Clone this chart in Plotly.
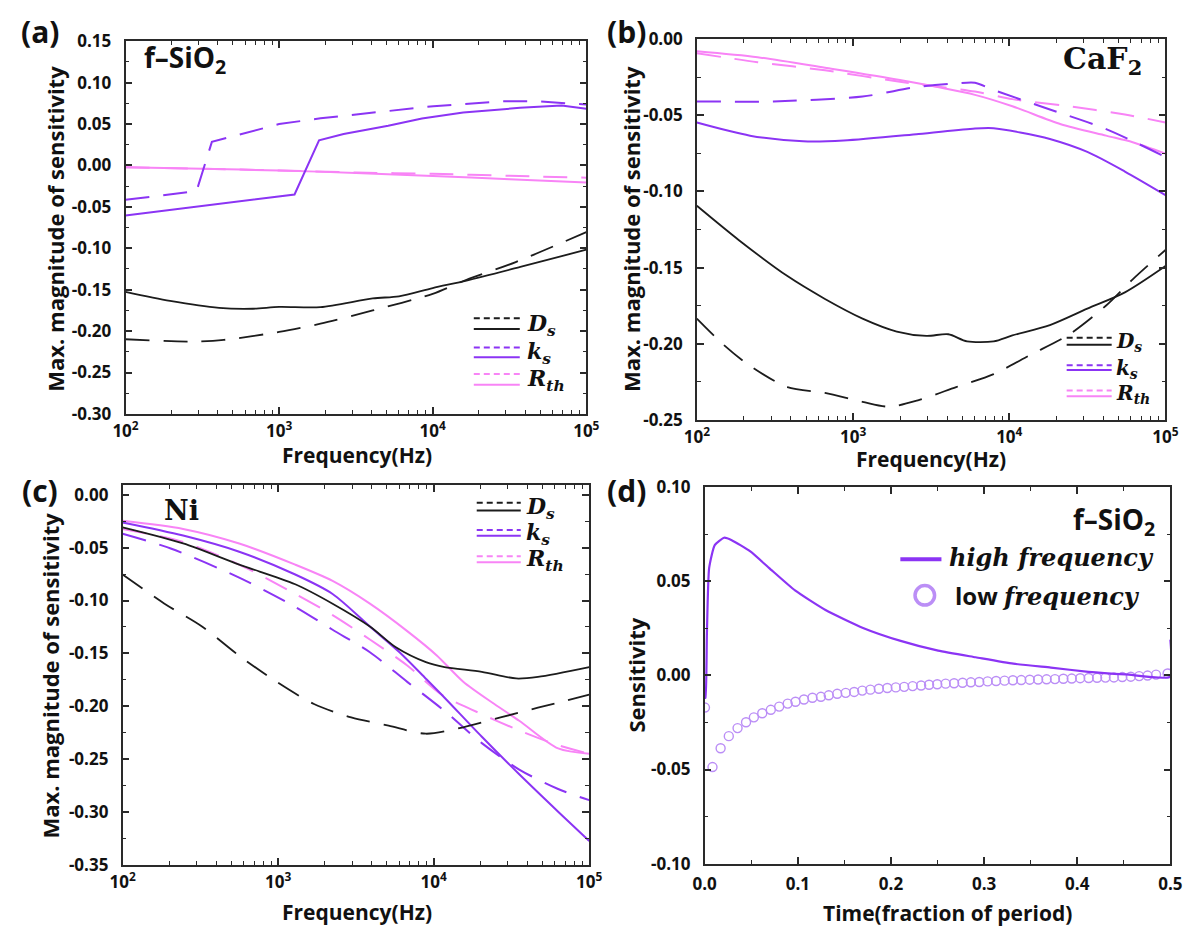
import plotly.graph_objects as go

# ---------------- DATA ----------------
# Panel (a) f-SiO2
a_ds_sol_f = [100, 195, 407, 676, 1000, 1860, 4070, 6030, 10000, 16600, 37200, 100000]
a_ds_sol_v = [-0.1527, -0.1636, -0.172, -0.173, -0.1707, -0.171, -0.1605, -0.158, -0.148, -0.139, -0.1225, -0.1017]
a_ds_dash_f = [100, 275, 437, 1000, 1860, 4070, 10000, 16600, 34700, 100000]
a_ds_dash_v = [-0.2098, -0.2126, -0.2106, -0.201, -0.191, -0.175, -0.155, -0.138, -0.1166, -0.0805]
a_ks_sol_f = [100, 195, 1000, 1260, 1820, 2630, 5130, 8510, 15800, 37000, 69000, 100000]
a_ks_sol_v = [-0.0605, -0.054, -0.038, -0.035, 0.0304, 0.038, 0.048, 0.0567, 0.064, 0.0696, 0.0724, 0.0685]
a_ks_dash_f = [100, 290, 365, 1000, 1860, 10100, 27900, 49000, 100000]
a_ks_dash_v = [-0.0415, -0.031, 0.0285, 0.050, 0.057, 0.0716, 0.0775, 0.0775, 0.0735]
a_rth_sol_f = [100, 316, 1000, 3162, 10000, 31623, 100000]
a_rth_sol_v = [-0.002, -0.004, -0.006, -0.009, -0.0127, -0.0165, -0.0205]
a_rth_dash_f = [100, 1000, 3162, 10000, 31623, 100000]
a_rth_dash_v = [-0.002, -0.006, -0.0085, -0.010, -0.0125, -0.0147]

# Panel (b) CaF2
b_ds_sol_f = [100, 186, 380, 661, 1150, 1905, 2950, 4070, 5370, 7940, 10470, 18200, 31600, 55000, 100000]
b_ds_sol_v = [-0.1094, -0.132, -0.1556, -0.1706, -0.1835, -0.192, -0.1949, -0.1938, -0.1985, -0.1985, -0.1946, -0.1878, -0.177, -0.1663, -0.149]
b_ds_dash_f = [100, 148, 219, 380, 661, 1150, 1700, 2630, 4570, 7940, 13800, 24000, 41700, 61700, 100000]
b_ds_dash_v = [-0.1835, -0.2006, -0.2146, -0.2285, -0.2324, -0.2382, -0.2414, -0.2371, -0.2285, -0.22, -0.2071, -0.1942, -0.1749, -0.1577, -0.1384]
b_ks_sol_f = [100, 219, 479, 871, 2630, 6030, 7940, 11750, 18200, 31600, 55000, 100000]
b_ks_sol_v = [-0.0547, -0.0633, -0.067, -0.0665, -0.0622, -0.0586, -0.0584, -0.0612, -0.0655, -0.074, -0.0869, -0.1024]
b_ks_dash_f = [100, 309, 1150, 2510, 4570, 6030, 7940, 18200, 41700, 100000]
b_ks_dash_v = [-0.0408, -0.0408, -0.0376, -0.0315, -0.029, -0.0285, -0.0333, -0.0461, -0.059, -0.0773]
b_rth_sol_f = [100, 245, 661, 1995, 6026, 10470, 21380, 41690, 61660, 100000]
b_rth_sol_v = [-0.0079, -0.0118, -0.0187, -0.0268, -0.0365, -0.044, -0.0558, -0.0633, -0.0676, -0.0751]
b_rth_dash_f = [100, 245, 661, 1995, 6026, 10470, 24000, 55000, 100000]
b_rth_dash_v = [-0.0092, -0.015, -0.0204, -0.0279, -0.0343, -0.0393, -0.044, -0.0494, -0.0547]

# Panel (c) Ni
c_ds_sol_f = [100, 245, 562, 1288, 2239, 3890, 5750, 8910, 11750, 20400, 33900, 46800, 100000]
c_ds_sol_v = [-0.0308, -0.046, -0.066, -0.0846, -0.103, -0.1246, -0.1446, -0.1584, -0.163, -0.1676, -0.1738, -0.1723, -0.163]
c_ds_dash_f = [100, 186, 324, 562, 977, 1700, 2950, 5130, 8910, 15500, 26900, 46800, 100000]
c_ds_dash_v = [-0.0754, -0.103, -0.1246, -0.1523, -0.1769, -0.198, -0.2107, -0.2184, -0.2261, -0.22, -0.2107, -0.2015, -0.1892]
c_ks_sol_f = [100, 245, 562, 1288, 2239, 3890, 6030, 8910, 11750, 20400, 35480, 63100, 100000]
c_ks_sol_v = [-0.0261, -0.0385, -0.0538, -0.0754, -0.0938, -0.1246, -0.149, -0.174, -0.192, -0.229, -0.2645, -0.2999, -0.3276]
c_ks_dash_f = [100, 204, 562, 1288, 2239, 3890, 6760, 11750, 20400, 35480, 63100, 100000]
c_ks_dash_v = [-0.0369, -0.0508, -0.0784, -0.106, -0.1277, -0.149, -0.177, -0.2046, -0.235, -0.26, -0.2784, -0.289]
c_rth_sol_f = [100, 245, 562, 1288, 2239, 3890, 6760, 10470, 15490, 24550, 35480, 63100, 100000]
c_rth_sol_v = [-0.0246, -0.0323, -0.0461, -0.0661, -0.0815, -0.103, -0.129, -0.152, -0.1769, -0.198, -0.2138, -0.240, -0.245]
c_rth_dash_f = [100, 245, 562, 1288, 2239, 3890, 6760, 11200, 17400, 35480, 63100, 100000]
c_rth_dash_v = [-0.0323, -0.0446, -0.066, -0.0938, -0.1138, -0.1369, -0.1615, -0.189, -0.203, -0.223, -0.237, -0.245]

# Panel (d) f-SiO2 time-domain sensitivity
d_high_t = [0.0, 0.0008, 0.0024, 0.0048, 0.0108, 0.0209, 0.029, 0.049, 0.069, 0.097, 0.1297, 0.17,
            0.2104, 0.2507, 0.291, 0.3314, 0.3717, 0.412, 0.452, 0.4995, 0.5]
d_high_v = [-0.012, -0.0119, 0.0226, 0.0571, 0.0692, 0.0731, 0.0718, 0.0658, 0.0571, 0.0451, 0.0347, 0.0252,
            0.0183, 0.0131, 0.0096, 0.0062, 0.0041, 0.0019, 0.0005, -0.0007, 0.019]
d_low_t = [0.0003, 0.0084, 0.0171, 0.0259, 0.0353, 0.0444, 0.0528, 0.0618, 0.0710, 0.0800, 0.0891, 0.0975,
           0.1066, 0.1157, 0.1248, 0.1332, 0.1423, 0.1514, 0.1605, 0.1692, 0.1779, 0.1870, 0.1961, 0.2052,
           0.2142, 0.2233, 0.2324, 0.2409, 0.2497, 0.2587, 0.2678, 0.2769, 0.2858, 0.2948, 0.3038, 0.3129,
           0.3220, 0.3309, 0.3399, 0.3490, 0.3580, 0.3671, 0.3761, 0.3851, 0.3941, 0.4032, 0.4123, 0.4213,
           0.4303, 0.4394, 0.4484, 0.4575, 0.4665, 0.4755, 0.4846, 0.4970]
d_low_v = [-0.0171, -0.0487, -0.0387, -0.0323, -0.0280, -0.0249, -0.0223, -0.0201, -0.0183, -0.0166,
           -0.0150, -0.0140, -0.0128, -0.0119, -0.0114, -0.0106, -0.0098, -0.0093, -0.0088, -0.0081,
           -0.0076, -0.0071, -0.0067, -0.0064, -0.0061, -0.0057, -0.0054, -0.0050, -0.0047, -0.0044,
           -0.0042, -0.0039, -0.0037, -0.0035, -0.0032, -0.0030, -0.0028, -0.0026, -0.0025, -0.0023,
           -0.0022, -0.0021, -0.0020, -0.0018, -0.0017, -0.0015, -0.0014, -0.0013, -0.0012, -0.0011,
           -0.0009, -0.0007, -0.0004, -0.0001, 0.0004, 0.0010]

# tick labels
log_tickvals = [100, 1000, 10000, 100000]
log_ticktext = ["10<sup>2</sup>", "10<sup>3</sup>", "10<sup>4</sup>", "10<sup>5</sup>"]
log_minor = [200, 300, 400, 500, 600, 700, 800, 900, 2000, 3000, 4000, 5000, 6000, 7000, 8000, 9000,
             20000, 30000, 40000, 50000, 60000, 70000, 80000, 90000]
a_yticks = [0.15, 0.10, 0.05, 0.00, -0.05, -0.10, -0.15, -0.20, -0.25, -0.30]
b_yticks = [0.00, -0.05, -0.10, -0.15, -0.20, -0.25]
c_yticks = [0.00, -0.05, -0.10, -0.15, -0.20, -0.25, -0.30, -0.35]
d_yticks = [0.10, 0.05, 0.00, -0.05, -0.10]
d_xticks = [0.0, 0.1, 0.2, 0.3, 0.4, 0.5]

# ---------------- STYLE ----------------
W, H = 1200, 940
C_DS = "#1c1c1c"
C_KS = "#8b34f4"
C_RTH = "#f884f6"
C_LOW = "#bb8ef6"
AXC = "#2a2a2a"
SANS = "Open Sans"
SERIF = "DejaVu Serif"
DASH = "24px,14px"


def px(x):
    return x / W


def py(y):
    return 1 - y / H


def fmt(v):
    return f"{v:.2f}"


tickfont = dict(family=SANS, size=17, color="#111", weight="bold")


def axis_common():
    return dict(showline=True, linecolor=AXC, linewidth=1.6, mirror="allticks",
                ticks="inside", ticklen=7, tickwidth=1.6, tickcolor=AXC,
                showgrid=False, zeroline=False, tickfont=tickfont)


def xlog(domain, anchor):
    d = axis_common()
    d.update(type="log", range=[2, 5], domain=domain, anchor=anchor,
             tickmode="array", tickvals=log_tickvals, ticktext=log_ticktext,
             ticklabelstandoff=1,
             minor=dict(ticks="inside", ticklen=4, tickwidth=1.2, tickcolor=AXC,
                        tickvals=log_minor, showgrid=False))
    return d


def ylin(domain, anchor, rng, ticks, minor_dtick):
    d = axis_common()
    d.update(range=rng, domain=domain, anchor=anchor, tickmode="array",
             tickvals=ticks, ticktext=[fmt(t) for t in ticks], ticklabelstandoff=9,
             minor=dict(ticks="inside", ticklen=4, tickwidth=1.2, tickcolor=AXC,
                        dtick=minor_dtick, tick0=0, showgrid=False))
    return d


fig = go.Figure()


def add(xs, ys, color, dash, xa, ya, width=2.0, shape="spline"):
    line = dict(color=color, width=width, dash=dash, shape=shape)
    if shape == "spline":
        line["smoothing"] = 0.8
    fig.add_trace(go.Scatter(x=xs, y=ys, mode="lines", xaxis=xa, yaxis=ya, line=line,
                             showlegend=False, hoverinfo="skip"))


# panel a
add(a_rth_dash_f, a_rth_dash_v, C_RTH, DASH, "x", "y")
add(a_rth_sol_f, a_rth_sol_v, C_RTH, "solid", "x", "y")
add(a_ks_dash_f, a_ks_dash_v, C_KS, DASH, "x", "y", shape="linear")
add(a_ks_sol_f, a_ks_sol_v, C_KS, "solid", "x", "y", shape="linear")
add(a_ds_dash_f, a_ds_dash_v, C_DS, DASH, "x", "y", 1.8)
add(a_ds_sol_f, a_ds_sol_v, C_DS, "solid", "x", "y", 1.8)
# panel b
add(b_rth_dash_f, b_rth_dash_v, C_RTH, DASH, "x2", "y2")
add(b_rth_sol_f, b_rth_sol_v, C_RTH, "solid", "x2", "y2")
add(b_ks_dash_f, b_ks_dash_v, C_KS, DASH, "x2", "y2")
add(b_ks_sol_f, b_ks_sol_v, C_KS, "solid", "x2", "y2")
add(b_ds_dash_f, b_ds_dash_v, C_DS, DASH, "x2", "y2", 1.8)
add(b_ds_sol_f, b_ds_sol_v, C_DS, "solid", "x2", "y2", 1.8)
# panel c
add(c_rth_dash_f, c_rth_dash_v, C_RTH, DASH, "x3", "y3")
add(c_rth_sol_f, c_rth_sol_v, C_RTH, "solid", "x3", "y3")
add(c_ks_dash_f, c_ks_dash_v, C_KS, DASH, "x3", "y3")
add(c_ks_sol_f, c_ks_sol_v, C_KS, "solid", "x3", "y3")
add(c_ds_dash_f, c_ds_dash_v, C_DS, DASH, "x3", "y3", 1.8)
add(c_ds_sol_f, c_ds_sol_v, C_DS, "solid", "x3", "y3", 1.8)
# panel d
fig.add_trace(go.Scatter(x=d_low_t, y=d_low_v, mode="markers", xaxis="x4", yaxis="y4",
                         marker=dict(symbol="circle-open", size=9, color=C_LOW,
                                     line=dict(width=1.4, color=C_LOW)),
                         showlegend=False, hoverinfo="skip"))
fig.add_trace(go.Scatter(x=d_high_t, y=d_high_v, mode="lines", xaxis="x4", yaxis="y4",
                         line=dict(color=C_KS, width=2.2, shape="spline", smoothing=0.5),
                         showlegend=False, hoverinfo="skip"))

# axes
xa = xlog([px(115), px(586)], "y")
ya = ylin([py(412), py(30)], "x", [-0.30, 0.15], a_yticks, 0.025)
xb = xlog([px(699), px(1178)], "y2")
yb = ylin([py(418), py(28)], "x2", [-0.25, 0.0], b_yticks, 0.025)
xc = xlog([px(112), px(589)], "y3")
yc = ylin([py(874), py(485)], "x3", [-0.35, 0.0092], c_yticks, 0.025)
xd = axis_common()
xd.update(range=[0, 0.5], domain=[px(707), px(1183)], anchor="y4", tickmode="array",
          tickvals=d_xticks, ticktext=[f"{t:.1f}" for t in d_xticks], ticklabelstandoff=4,
          minor=dict(ticks="inside", ticklen=4, tickwidth=1.2, tickcolor=AXC, dtick=0.05, tick0=0))
yd = ylin([py(873), py(487)], "x4", [-0.10, 0.10], d_yticks, 0.025)

annotations = []


def ann(x, y, text, size, family=SANS, angle=0, xanchor="center", yanchor="middle", weight="bold", color="#111"):
    annotations.append(dict(x=px(x), y=py(y), xref="paper", yref="paper", text=text, showarrow=False,
                            textangle=angle, xanchor=xanchor, yanchor=yanchor, borderpad=0,
                            font=dict(family=family, size=size, color=color, weight=weight)))


# panel labels
for lx, ly, t in [(28, 20, "(a)"), (627, 20, "(b)"), (28, 490, "(c)"), (627, 490, "(d)")]:
    ann(lx, ly, t, 30)
# axis titles
ann(42, 222, "Max. magnitude of sensitivity", 22, angle=-90)
ann(631, 222, "Max. magnitude of sensitivity", 22, angle=-90)
ann(38, 680, "Max. magnitude of sensitivity", 22, angle=-90)
ann(637, 680, "Sensitivity", 22, angle=-90)
ann(352, 454, "Frequency(Hz)", 21)
ann(938, 458, "Frequency(Hz)", 21)
ann(352, 923, "Frequency(Hz)", 21)
ann(955, 924, "Time(fraction of period)", 21)
# materials
ann(133, 48, "f\u2013SiO<sub>2</sub>", 28, xanchor="left")
ann(1155, 50, "CaF<sub>2</sub>", 30, family="DejaVu Serif", xanchor="right")
ann(153, 511, "Ni", 27, family="DejaVu Serif", xanchor="left")
ann(1168, 522, "f\u2013SiO<sub>2</sub>", 28, xanchor="right")

shapes = []


def seg(x0, x1, y, color, dash, width=2.0):
    shapes.append(dict(type="line", xref="paper", yref="paper", x0=px(x0), x1=px(x1), y0=py(y), y1=py(y),
                       line=dict(color=color, width=width, dash=dash)))


def legend_block(x0, x1, rows, tx, size):
    names = ["<i>D</i><sub><i>s</i></sub>", "<i>k</i><sub><i>s</i></sub>", "<i>R</i><sub><i>th</i></sub>"]
    colors = [C_DS, C_KS, C_RTH]
    for (yd_, ys_), nm, c in zip(rows, names, colors):
        seg(x0, x1, yd_, c, "6px,4px", 2.0)
        seg(x0, x1, ys_, c, "solid", 2.0)
        ann(tx, (yd_ + ys_) / 2 + 1, nm, size, family=SERIF, xanchor="left")


legend_block(471, 518, [(314, 325), (344, 354), (371, 382)], 524, 22)
legend_block(1077, 1123, [(334, 341), (362, 367), (388, 394)], 1126, 20)
legend_block(474, 519, [(503, 511), (531, 537), (558, 564)], 523, 22)

# panel d legend
seg(907, 949, 561, C_KS, "solid", 4)
ann(956, 559, "<i>high frequency</i>", 24, family=SERIF, xanchor="left")
shapes.append(dict(type="circle", xref="paper", yref="paper", x0=px(922), x1=px(942), y0=py(588), y1=py(608),
                   line=dict(color=C_LOW, width=3.5)))
annotations.append(dict(x=px(962), y=py(598), xref="paper", yref="paper", xanchor="left", yanchor="middle",
                        showarrow=False, borderpad=0,
                        text="low <span style='font-family:DejaVu Serif'><i>frequency</i></span>",
                        font=dict(family=SANS, size=24, color="#111", weight="bold")))

fig.update_layout(
    width=W, height=H, margin=dict(l=0, r=0, t=0, b=0),
    paper_bgcolor="white", plot_bgcolor="white",
    xaxis=xa, yaxis=ya, xaxis2=xb, yaxis2=yb, xaxis3=xc, yaxis3=yc, xaxis4=xd, yaxis4=yd,
    annotations=annotations, shapes=shapes, showlegend=False,
)

fig.write_html("out.html")
